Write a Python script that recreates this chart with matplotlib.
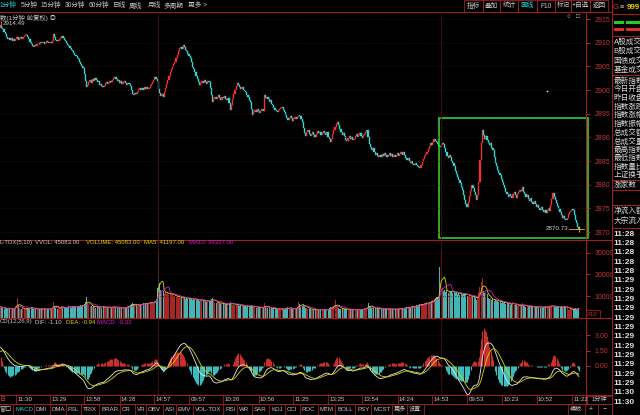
import numpy as np
import pandas as pd
import matplotlib
matplotlib.use("Agg")
import matplotlib.pyplot as plt
from matplotlib.patches import Rectangle
from matplotlib.lines import Line2D

plt.rcParams['font.family'] = ['Liberation Sans', 'Noto Sans CJK SC', 'DejaVu Sans']

# ---------------------------------------------------------------- data
sessions = [("11:17", "11:30"), ("13:01", "15:00"), ("09:31", "11:30"),
            ("13:01", "15:00"), ("09:31", "11:28")]

first_open = 2913.2
first_high = 2914.49
closes = [
    # day 1 morning tail (0-13)
    2913.8, 2913.2, 2912.9, 2912.4, 2911.8, 2911.2, 2910.8, 2911.1, 2910.6, 2911.0,
    2910.5, 2910.9, 2910.4, 2910.8,
    # day 1 afternoon (14-133)
    2911.2, 2910.7, 2911.0, 2911.3, 2910.9, 2911.2,
    2911.4, 2911.6, 2911.7, 2911.3, 2910.8, 2910.2, 2909.8, 2909.4, 2909.2, 2909.5,
    2909.3, 2909.7, 2910.0, 2909.8, 2910.1, 2909.9, 2910.2, 2909.8, 2910.0, 2910.3,
    2910.1, 2909.9, 2910.2, 2910.0, 2910.4, 2911.9, 2911.2, 2910.6, 2910.3, 2910.5,
    2910.8, 2911.1, 2911.5, 2911.0, 2910.6, 2910.3, 2909.9, 2909.6, 2909.3, 2908.9,
    2908.6, 2908.2, 2907.9, 2907.5, 2907.2, 2906.8, 2906.5, 2906.0, 2905.6, 2905.1,
    2904.6, 2903.4, 2901.9, 2900.6, 2901.2, 2901.8, 2902.1, 2901.6, 2902.3, 2902.0,
    2902.5, 2902.1, 2901.7, 2901.9, 2901.1, 2901.4, 2900.9, 2900.6, 2901.0, 2901.5,
    2901.7, 2901.3, 2901.6, 2902.0, 2901.8, 2902.2, 2902.5, 2902.8, 2902.3, 2901.9,
    2902.1, 2901.6, 2901.9, 2901.4, 2901.8, 2902.0, 2901.5, 2901.2, 2901.6, 2901.3,
    2900.8, 2900.1, 2899.3, 2899.0, 2899.4, 2899.2, 2899.7, 2900.2, 2900.5, 2900.1,
    2900.4, 2900.0, 2900.6, 2900.3, 2900.7, 2900.2, 2900.5, 2900.9, 2901.3, 2901.7,
    2902.2, 2902.7, 2902.4, 2902.0,
    # day 2 morning (134-253)
    2900.2, 2899.4, 2898.8, 2899.2, 2898.5, 2899.6, 2900.5, 2901.4, 2902.2, 2903.0,
    2903.8, 2904.5, 2904.9, 2905.5, 2905.9, 2906.8, 2907.5, 2908.2, 2908.9, 2909.2,
    2908.7, 2909.5, 2909.1, 2908.6, 2908.2, 2907.6, 2907.3, 2906.8, 2905.9, 2905.0,
    2904.4, 2903.8, 2903.1, 2902.4, 2901.7, 2901.1, 2901.5, 2902.0, 2901.6, 2902.1,
    2901.8, 2901.4, 2902.0, 2901.7, 2900.5, 2899.0, 2897.5, 2898.2, 2898.6, 2898.1,
    2898.5, 2898.9, 2898.4, 2898.0, 2898.6, 2898.3, 2898.8, 2898.2, 2897.9, 2898.4,
    2897.3, 2895.8, 2896.9, 2898.2, 2899.3, 2900.1, 2900.8, 2901.5, 2901.1, 2900.7,
    2900.3, 2900.6, 2900.0, 2899.8, 2899.6, 2899.1, 2898.5, 2898.0, 2897.5, 2896.1,
    2894.7, 2895.3, 2895.8, 2895.4, 2896.0, 2895.6, 2895.2, 2895.7, 2896.1, 2895.6,
    2898.9, 2898.4, 2898.6, 2898.1, 2897.6, 2897.9, 2897.2, 2896.8, 2896.3, 2895.9,
    2895.6, 2895.4, 2895.8, 2896.0, 2896.2, 2896.4, 2895.9, 2895.3, 2894.8, 2894.2,
    2893.7, 2894.2, 2894.5, 2894.1, 2893.6, 2894.0, 2894.4, 2893.9, 2894.3, 2894.6,
    # day 2 afternoon (254-373)
    2894.5, 2894.0, 2893.2, 2892.1, 2891.0, 2890.4, 2891.2, 2891.6, 2890.8, 2890.3,
    2890.7, 2891.1, 2890.5, 2890.2, 2890.8, 2891.3, 2890.9, 2891.2, 2890.6, 2891.0,
    2891.4, 2891.0, 2890.6, 2891.1, 2890.2, 2889.6, 2889.0, 2889.8, 2890.7, 2891.5,
    2892.3, 2892.8, 2893.2, 2892.6, 2891.9, 2891.2, 2890.6, 2891.0, 2890.3, 2889.5,
    2889.2, 2889.9, 2890.4, 2889.7, 2890.1, 2889.4, 2889.8, 2890.3, 2890.7, 2890.2,
    2890.6, 2891.0, 2890.4, 2890.0, 2890.5, 2890.8, 2891.2, 2891.5, 2890.1, 2888.6,
    2888.0, 2887.4, 2887.8, 2887.0, 2886.4, 2886.8, 2886.2, 2885.8, 2886.3, 2886.0,
    2886.5, 2886.1, 2886.7, 2886.3, 2885.9, 2886.4, 2886.8, 2886.2, 2886.6, 2886.0,
    2886.4, 2885.9, 2886.3, 2886.7, 2886.2, 2886.5, 2886.9, 2886.4, 2887.0, 2886.3,
    2885.7, 2885.2, 2885.6, 2885.0, 2884.6, 2885.1, 2884.5, 2884.2, 2884.7, 2884.3,
    2884.0, 2883.8, 2883.6, 2884.3, 2884.9, 2885.5, 2886.2, 2886.6, 2887.0, 2887.6,
    2888.2, 2888.8, 2888.5, 2889.0, 2889.6, 2889.2, 2889.0, 2888.6, 2888.3, 2888.0,
    # day 3 morning (374-491)
    2888.5, 2888.9, 2888.6, 2887.8, 2886.9, 2886.2, 2885.6, 2886.4, 2885.8, 2885.1,
    2884.7, 2883.9, 2883.0, 2882.4, 2881.6, 2881.0, 2880.3, 2879.6, 2878.9, 2877.9,
    2876.9, 2876.0, 2875.3, 2876.4, 2877.6, 2878.8, 2879.9, 2879.3, 2878.4, 2877.8,
    2876.8, 2877.9, 2880.6, 2885.2, 2888.8, 2891.5, 2890.6, 2889.8, 2890.3, 2889.4,
    2888.9, 2888.4, 2888.8, 2887.9, 2887.3, 2886.0, 2884.6, 2883.9, 2883.2, 2882.5,
    2882.0, 2881.2, 2880.6, 2880.0, 2879.3, 2878.6, 2878.0, 2877.5, 2878.1, 2877.6,
    2877.2, 2878.0, 2878.4, 2877.8, 2877.3, 2878.1, 2878.6, 2879.0, 2878.7, 2879.5,
    2878.6, 2878.0, 2877.4, 2877.9, 2877.1, 2876.6, 2877.2, 2876.4, 2875.9, 2876.5,
    2876.0, 2875.4, 2875.8, 2875.2, 2874.8, 2875.3, 2874.6, 2874.2, 2874.7, 2874.1,
    2874.6, 2875.1, 2874.5, 2875.8, 2877.0, 2878.2, 2877.5, 2876.9, 2876.1, 2875.5,
    2874.9, 2874.2, 2873.6, 2873.0, 2873.5, 2872.8, 2872.5, 2873.1, 2873.8, 2874.2,
    2874.4, 2874.8, 2874.6, 2873.7, 2872.6, 2871.9, 2871.2, 2870.73,
]

volumes = [
    5200, 4300, 4800, 3900, 4500, 4100, 3800, 4600, 4200, 3700, 4400, 4000, 4700, 5600,
    9200, 5800, 4600, 4200, 3900, 4400, 4100, 3800, 4300, 4700,
    4200, 4600, 5000, 4400, 4100, 3900, 4300, 4000, 3700, 4200,
    3900, 4100, 3800, 4300, 4000, 3600, 4200, 3900, 4400, 4100,
    4700, 7400, 5600, 4500, 4200, 4600, 4300, 4800, 5200, 4600,
    4300, 4700, 5100, 4800, 5300, 5000, 4600, 5200, 4900, 5400,
    5100, 5500, 5000, 5400, 5800, 5300, 6000, 6400, 7200, 9700,
    6600, 5800, 5200, 5600, 4900, 5300, 5000, 4700, 5100, 4800,
    5400, 5000, 4600, 5200, 4800, 5000, 4500, 4900, 4600, 5100,
    4700, 5000, 4600, 5300, 4900, 4500, 4800, 4400, 4700, 4300,
    4600, 4900, 4500, 4800, 5200, 5600, 5900, 6300, 6800, 6100,
    5700, 6000, 5600, 6200, 5900, 6400, 6100, 6600, 6300, 6800,
    6500, 7000, 6700, 7200, 6900, 7400, 7100, 7600, 8200, 13800,
    30000, 15800, 12600, 11800, 12400, 11200, 11900, 10800, 11500, 10600,
    11300, 10400, 11000, 9800, 10200, 9500, 9900, 9300, 9700, 9100,
    9600, 8900, 9400, 8700, 9200, 8600, 9000, 8500, 8900, 8300,
    8800, 8200, 8600, 8000, 8400, 7900, 8300, 7700, 8100, 7600,
    7900, 7400, 7800, 7200, 8000, 8800, 9200, 7600, 7000, 6800,
    7100, 6600, 6900, 6400, 6700, 6200, 6500, 6100, 6300, 5900,
    6800, 7300, 6400, 6000, 6200, 5800, 6100, 6500, 5700, 5500,
    5800, 5400, 5600, 5200, 5500, 5100, 5300, 5000, 5400, 5900,
    5200, 4800, 5000, 4600, 4900, 4500, 4700, 4400, 4800, 4600,
    7000, 5200, 4700, 4400, 4600, 4200, 4500, 4100, 4400, 4000,
    4300, 3900, 4200, 3800, 4100, 4400, 4000, 3700, 4300, 4600,
    5000, 4500, 4200, 4000, 4300, 3900, 4100, 4400, 4800, 7400,
    6200, 5100, 5600, 6000, 5400, 4700, 4300, 4000, 4200, 3800,
    3700, 3900, 3600, 3800, 3500, 3700, 3900, 3600, 3800, 3500,
    3700, 3400, 3600, 3900, 4200, 4600, 5000, 4400, 4800, 5300,
    8300, 5600, 4900, 4500, 4200, 4000, 4300, 3900, 4100, 3800,
    4000, 3700, 3900, 3600, 3800, 3500, 3700, 3900, 3600, 3800,
    3700, 3900, 3600, 3800, 4100, 4300, 4000, 4500, 7000, 5600,
    5000, 4600, 4300, 4700, 4400, 4100, 4500, 4200, 4000, 4300,
    4100, 3900, 4200, 3800, 4000, 4300, 3900, 4100, 3700, 4000,
    3800, 4100, 3900, 4200, 4000, 4400, 4100, 4500, 4300, 4700,
    4500, 4900, 4600, 5000, 4800, 5200, 5500, 5100, 5400, 5800,
    5600, 6000, 6300, 5900, 6500, 6200, 6800, 6500, 7100, 6900,
    7300, 7000, 7600, 8200, 8800, 9200, 9700, 9400, 10200, 23500,
    31000, 13800, 12500, 12900, 11800, 12600, 11500, 12200, 11900, 12400,
    11600, 12000, 11200, 11700, 10900, 11400, 10600, 11100, 10300, 10800,
    11500, 10900, 10200, 9800, 10300, 9600, 10000, 9400, 9800, 9200,
    8300, 9600, 11800, 14200, 16500, 18400, 12300, 11600, 12000, 10800,
    9200, 8600, 8900, 8200, 8500, 7900, 8300, 7600, 7900, 7300,
    7600, 7000, 7300, 6700, 7100, 6500, 6800, 6200, 6500, 6000,
    6300, 7400, 6000, 5700, 5900, 5500, 5800, 5400, 5600, 6900,
    5300, 5600, 5100, 5400, 5000, 5300, 4900, 5200, 4800, 5100,
    4900, 5200, 4800, 5100, 4700, 5000, 4600, 4900, 5200, 4800,
    5000, 5300, 4900, 5600, 6000, 5400, 5100, 4800, 5200, 4900,
    5100, 4800, 5000, 4700, 4900, 5200, 4800, 5100, 3600, 3700,
    3900, 3800, 3600, 4100, 4300, 3700, 4000, 4508,
]

price_ticks = [2870, 2875, 2880, 2885, 2890, 2895, 2900, 2905, 2910, 2915]
vol_ticks = [10000, 20000, 30000]
macd_ticks = [0.0, 1.5, 3.0]
time_tick_labels = ["11:30", "13:29", "13:58", "14:28", "14:57", "09:57", "10:26",
                    "10:56", "11:25", "13:25", "13:54", "14:24", "14:53", "09:53",
                    "10:23", "10:52", "11:22"]
# MACD state carried in from bars before the visible window
macd_fast_seed, macd_slow_seed, macd_dea_seed = 2913.0, 2911.1, 1.3
# drawn marks on the chart
box_bars = (372.6, 498.6)
box_prices = (2868.8, 2894.0)
dot_bar, dot_price = 464, 2899.8

top_tabs = ["1分钟", "5分钟", "15分钟", "30分钟", "60分钟", "日线", "周线", "月线", "多周期", "更多 >"]
tool_btns = ["指标", "叠加", "统计", "画线", "F10", "标记", "+自选", "返回"]
info_rows = ["A股成交", "B股成交", "国债成交", "基金成交", "最新指数", "今日开盘", "昨日收盘",
             "指数涨跌", "指数涨幅", "指数振幅", "总成交额", "总成交量", "最高指数", "最低指数",
             "指数量比", "上证换手", "涨家数", "净流入额", "大宗流入"]
tick_times = ["11:28"] * 5 + ["11:29"] * 12 + ["11:30"] * 2
bottom_tabs = ["窗口", "MACD", "DMI", "DMA", "FSL", "TRIX", "BRAR", "CR", "VR", "OBV", "ASI",
               "EMV", "VOL-TDX", "RSI", "WR", "SAR", "KDJ", "CCI", "ROC", "MTM", "BOLL",
               "PSY", "MCST", "更多", "设置"]

# ---------------------------------------------------------------- derived
def to_min(s):
    h, m = s.split(":")
    return int(h) * 60 + int(m)

bar_times, day_breaks = [], []
for a, b in sessions:
    if a == "09:31" and bar_times:
        day_breaks.append(len(bar_times) - 0.5)
    for t in range(to_min(a), to_min(b) + 1):
        bar_times.append(f"{t // 60:02d}:{t % 60:02d}")

n = len(closes)
assert n == len(bar_times) == len(volumes), (n, len(bar_times), len(volumes))
idx = np.arange(n)
c = np.array(closes)
o = np.r_[first_open, c[:-1]]
up = c >= o

tick_idx, k = [], 0
for lab in time_tick_labels:
    while bar_times[k] != lab:
        k += 1
    tick_idx.append(k)

def ema(vals, span, seed):
    a = 2.0 / (span + 1)
    out, e = [], seed
    for v in vals:
        e = e + a * (v - e)
        out.append(e)
    return np.array(out)

dif = ema(c, 12, macd_fast_seed) - ema(c, 26, macd_slow_seed)
dea = ema(dif, 9, macd_dea_seed)
hist = 2 * (dif - dea)

vol = pd.Series(volumes, dtype=float)
ma5 = vol.rolling(5, min_periods=1).mean()
ma10 = vol.rolling(10, min_periods=1).mean()

# ---------------------------------------------------------------- style
W, H = 640, 415
BG = "black"
RED = "#a51c1c"
GRID = "#420c0c"
AXC = "#c43434"
UP = "#f03434"
DN = "#34d8d8"
TXT = "#c8c8c8"
YEL = "#d8d800"
MAG = "#d020d0"
CYAN = "#20d0d0"

fig = plt.figure(figsize=(W / 100, H / 100), dpi=100, facecolor=BG)

def fx(x):
    return x / W

def fy(y):
    return 1 - y / H

def T(x, y, s, color=TXT, size=4.5, ha="left", va="center", weight="normal"):
    fig.text(fx(x), fy(y), s, color=color, fontsize=size, ha=ha, va=va,
             fontweight=weight)

def L(x0, y0, x1, y1, color=RED, lw=0.75):
    fig.add_artist(Line2D([fx(x0), fx(x1)], [fy(y0), fy(y1)], color=color, lw=lw,
                          transform=fig.transFigure))

def R(x0, y0, x1, y1, ec=RED, fc="none", lw=0.7):
    fig.add_artist(Rectangle((fx(x0), fy(y1)), (x1 - x0) / W, (y1 - y0) / H,
                             transform=fig.transFigure, ec=ec, fc=fc, lw=lw))

def panel(y0, y1):
    ax = fig.add_axes([0, fy(y1), 586 / W, (y1 - y0) / H])
    ax.set_facecolor(BG)
    for s in ax.spines.values():
        s.set_visible(False)
    ax.set_xlim(-0.45, 497.0)
    ax.set_xticks([])
    ax.yaxis.tick_right()
    ax.tick_params(axis="y", colors=AXC, labelsize=5.0, length=3, width=0.6, pad=3)
    for b in day_breaks:
        ax.axvline(b, color="#4c1010", lw=0.6)
    return ax

# ---------------------------------------------------------------- price panel
axp = panel(14, 240)
axp.set_ylim(2868.31, 2916.06)
axp.set_yticks(price_ticks)
axp.set_yticklabels([str(t) for t in price_ticks])
axp.grid(axis="y", color=GRID, lw=0.6, ls=(0, (1, 2)))
lo = np.minimum(o, c)
hgt = np.maximum(np.abs(c - o), 0.25)
cols = np.where(up, UP, DN)
axp.bar(idx, hgt, bottom=lo - 0.05, width=1.0, color=cols, edgecolor=cols, lw=0.25)
axp.vlines(0, max(o[0], c[0]), first_high, color=UP, lw=0.8)
axp.text(2, first_high, f"{first_high:.2f}", color=TXT, fontsize=4.5, va="top", ha="left")
axp.text(n - 10, c[-1], f"{c[-1]:.2f}", color=TXT, fontsize=4.5, va="center", ha="right")
axp.plot([n - 9.5, n + 3.5], [c[-1], c[-1]], color="#d09020", lw=0.7)
axp.plot([n - 1], [c[-1]], marker="+", color="#e0a030", ms=4, mew=0.7)
axp.plot([dot_bar], [dot_price], marker="o", color="#e0e0e0", ms=1.2, mew=0)
axp.add_patch(Rectangle((box_bars[0], box_prices[0]), box_bars[1] - box_bars[0],
                        box_prices[1] - box_prices[0], fill=False, ec="#36dc36",
                        lw=1.1, clip_on=False))

# ---------------------------------------------------------------- volume panel
axv = panel(240, 318)
axv.set_ylim(-138, 35806)
axv.set_yticks(vol_ticks)
axv.set_yticklabels([str(t) for t in vol_ticks])
axv.grid(axis="y", color=GRID, lw=0.6, ls=(0, (1, 2)))
axv.bar(idx, volumes, width=0.85, color=np.where(up, "#a82626", "#45b4b4"), lw=0)
axv.plot(idx, ma5, color=YEL, lw=0.6)
axv.plot(idx, ma10, color=MAG, lw=0.6)

# ---------------------------------------------------------------- MACD panel
axm = panel(318, 395)
axm.set_ylim(-2.81, 4.65)
axm.set_yticks(macd_ticks)
axm.set_yticklabels([f"{t:.2f}" for t in macd_ticks])
axm.grid(axis="y", color=GRID, lw=0.6, ls=(0, (1, 2)))
axm.vlines(idx, 0, hist, colors=np.where(hist >= 0, "#cc2e2e", "#3cbcbc"), lw=0.8)
axm.plot(idx, dif, color="#e8e8e8", lw=0.6)
axm.plot(idx, dea, color=YEL, lw=0.6)

# ---------------------------------------------------------------- frame lines
L(0, 12.5, 612, 12.5)
L(586, 12.5, 586, 403.5)
L(612, 0, 612, 415)
for yy in (240, 318, 395, 403.5, 414.5):
    L(0, yy, 612, yy)

# ---------------------------------------------------------------- top bar
tab_x = [0, 21, 41, 65, 89, 113, 129, 148, 164, 188]
for s, x in zip(top_tabs, tab_x):
    T(x, 6, s, color=CYAN if s == "1分钟" else TXT, size=4.8)
btn_x = [464, 482.5, 500, 518, 537, 555, 571, 590, 608]
for i, s in enumerate(tool_btns):
    R(btn_x[i], 0.5, btn_x[i + 1], 12, lw=0.6)
    T((btn_x[i] + btn_x[i + 1]) / 2, 6, s, color=CYAN if s == "画线" else TXT,
      size=4.8, ha="center")
T(0, 18, "数(1分钟 前复权) ◎", size=4.6)
T(568, 17, "○", size=4.5, ha="center")
T(578, 17, "□", size=4.5, ha="center")

# ---------------------------------------------------------------- panel headers
T(0, 242.5, "L-TDX(5,10)", size=4.3)
T(35, 242.5, "VVOL: 45083.00", size=4.3)
T(86, 242.5, "VOLUME: 45083.00", color=YEL, size=4.3)
T(144, 242.5, "MA5: 41197.00", color=YEL, size=4.3)
T(189, 242.5, "MA10: 39327.00", color=MAG, size=4.3)
T(0, 322, "CD(12,26,9)", size=4.3)
T(35, 322, "DIF: -1.10", size=4.3)
T(66, 322, "DEA: -0.94", color=YEL, size=4.3)
T(97, 322, "MACD: -0.32", color=MAG, size=4.3)
R(586, 310, 600, 318, lw=0.6)
T(587, 314, "X10", color=AXC, size=4.3)

# ---------------------------------------------------------------- time axis
T(0, 399.5, "日", color=AXC, size=4.4)
for ti, lab in zip(tick_idx, time_tick_labels):
    xp = axm.transData.transform((ti, 0))[0] * 100 / fig.dpi
    if xp > 585:
        continue
    L(xp, 395, xp, 403.5, lw=0.6)
    T(xp + 1.5, 399.5, lab, size=4.4)
R(586.5, 395.5, 611.5, 403.5, lw=0.6)
T(599, 399.5, "1分钟", size=4.4, ha="center")

# ---------------------------------------------------------------- bottom tabs
bt_x = [0, 15, 36, 52, 68, 83, 101, 122, 137, 148, 165, 178, 195, 225, 239, 254,
        271, 287, 302, 320, 337, 357, 373, 394, 409]
for s, x in zip(bottom_tabs, bt_x):
    T(x, 409, s, color=CYAN if s == "MACD" else TXT, size=4.4)
    if x > 0:
        L(x - 2, 403.5, x - 2, 414.5, lw=0.6)
L(424, 403.5, 424, 414.5, lw=0.6)
T(570, 409, "模板", size=4.4)
L(568, 403.5, 568, 414.5, lw=0.6)
L(585, 403.5, 585, 414.5, lw=0.6)
L(598, 403.5, 598, 414.5, lw=0.6)
T(591, 409, "+", size=5, ha="center")
T(605, 409, "−", size=5, ha="center")

# ---------------------------------------------------------------- right info panel
T(613, 7.5, "G", color="#e03030", size=5.8)
T(620, 7.5, "≡", size=5.2)
T(627, 7.5, "999", color="#e0d000", size=5.8, weight="bold")
L(612, 14, 640, 14)
for (bx, bw) in ((614, 10), (626, 14)):
    fig.add_artist(Rectangle((fx(bx), fy(24)), bw / W, 3 / H, transform=fig.transFigure,
                             fc="#20d020", ec="none"))
    fig.add_artist(Rectangle((fx(bx), fy(31.5)), bw / W, 3 / H, transform=fig.transFigure,
                             fc="#d83030", ec="none"))
L(612, 36, 640, 36)
row_y = [42, 51, 60.5, 69.5, 81, 89.5, 98.5, 107, 115.5, 124, 133, 141.5, 150, 158.5,
         167, 175.5, 185, 211, 221]
for s, yy in zip(info_rows, row_y):
    T(613.5, yy, s, color="#d8d8d8", size=5.5)
for yy in (75.5, 180.5, 190, 205, 227.5):
    L(612, yy, 640, yy)
for i, s in enumerate(tick_times):
    T(613, 234 + i * 9.35, s, color="#e0e0e0", size=6.0, weight="bold")

fig.savefig("out.png", dpi=100, facecolor=BG)
